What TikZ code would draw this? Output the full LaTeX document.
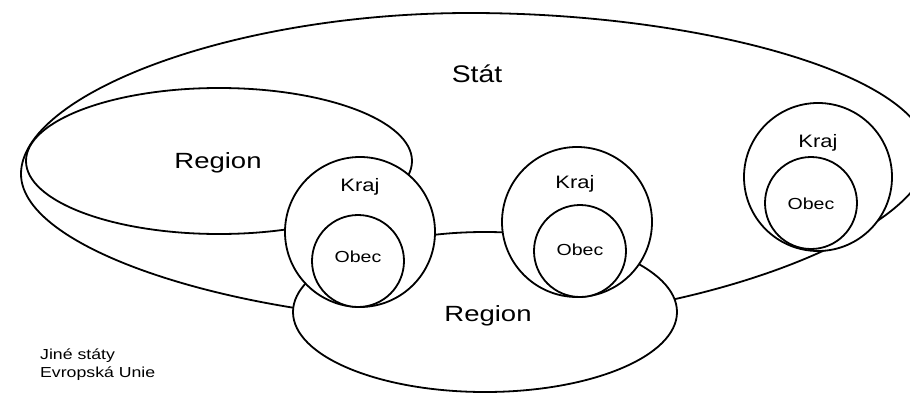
\documentclass[tikz,border=0pt]{standalone}
\usepackage{fontspec}
\setmainfont{Liberation Sans}
\usetikzlibrary{shapes.geometric}
\newcommand{\wide}[2][1.22]{\scalebox{#1}[1]{#2}}
\begin{document}
\begin{tikzpicture}[x=1pt,y=-1pt,
  shp/.style={draw, line width=1.8pt, fill=white, inner sep=0pt, outer sep=0pt},
  ell/.style={shp, ellipse},
  circ/.style={shp, circle},
  lbl/.style={inner sep=0pt, anchor=base},
  big/.style={lbl, font=\fontsize{22}{26}\selectfont},
  mid/.style={lbl, font=\fontsize{18}{21}\selectfont},
  small/.style={lbl, font=\fontsize{16}{19}\selectfont},
  note/.style={inner sep=0pt, anchor=base west, font=\fontsize{14.5}{18}\selectfont}]
\useasboundingbox (0,0) rectangle (910,396);
% Stat
\coordinate (sL) at (21,174);
\coordinate (sT) at (470,13);
\coordinate (sR) at (928,155);
\coordinate (sB) at (470,322);
\draw[line width=1.8pt, fill=white]
  (sL) .. controls (21,95) and (230,13) .. (sT)
       .. controls (700,13) and (928,75) .. (sR)
       .. controls (928,230) and (700,322) .. (sB)
       .. controls (250,322) and (21,252) .. (sL) -- cycle;
% upper-left Region
\node[ell, minimum width=386pt, minimum height=146pt] (regA) at (219,161) {};
% lower Region
\node[ell, minimum width=384pt, minimum height=160pt] (regB) at (485,312) {};
% Kraj circles
\node[circ, minimum size=150pt] (kraj1) at (360,232) {};
\node[circ, minimum size=150pt] (kraj2) at (577,222) {};
\node[circ, minimum size=148pt] (kraj3) at (818,177) {};
% Obec circles
\node[circ, minimum size=92pt] (obec1) at (358,261) {};
\node[circ, minimum size=92pt] (obec2) at (580,251) {};
\node[circ, minimum size=92pt] (obec3) at (811,203) {};
% labels
\node[big, font=\fontsize{24}{28}\selectfont] (tstat) at (477,82) {\wide[1.18]{Stát}};
\node[big] (tregA) at (218,168) {\wide[1.25]{Region}};
\node[big] (tregB) at (488,321) {\wide[1.25]{Region}};
\node[mid] (tkraj1) at (360,191) {\wide{Kraj}};
\node[mid] (tkraj2) at (575,188) {\wide{Kraj}};
\node[mid] (tkraj3) at (818,147) {\wide{Kraj}};
\node[small] (tobec1) at (358,262) {\wide{Obec}};
\node[small] (tobec2) at (580,255) {\wide{Obec}};
\node[small] (tobec3) at (811,209) {\wide{Obec}};
\node[note] (tjine) at (40,359) {\wide{Jiné státy}};
\node[note] (teu) at (40,377) {\wide{Evropská Unie}};
\end{tikzpicture}
\end{document}
